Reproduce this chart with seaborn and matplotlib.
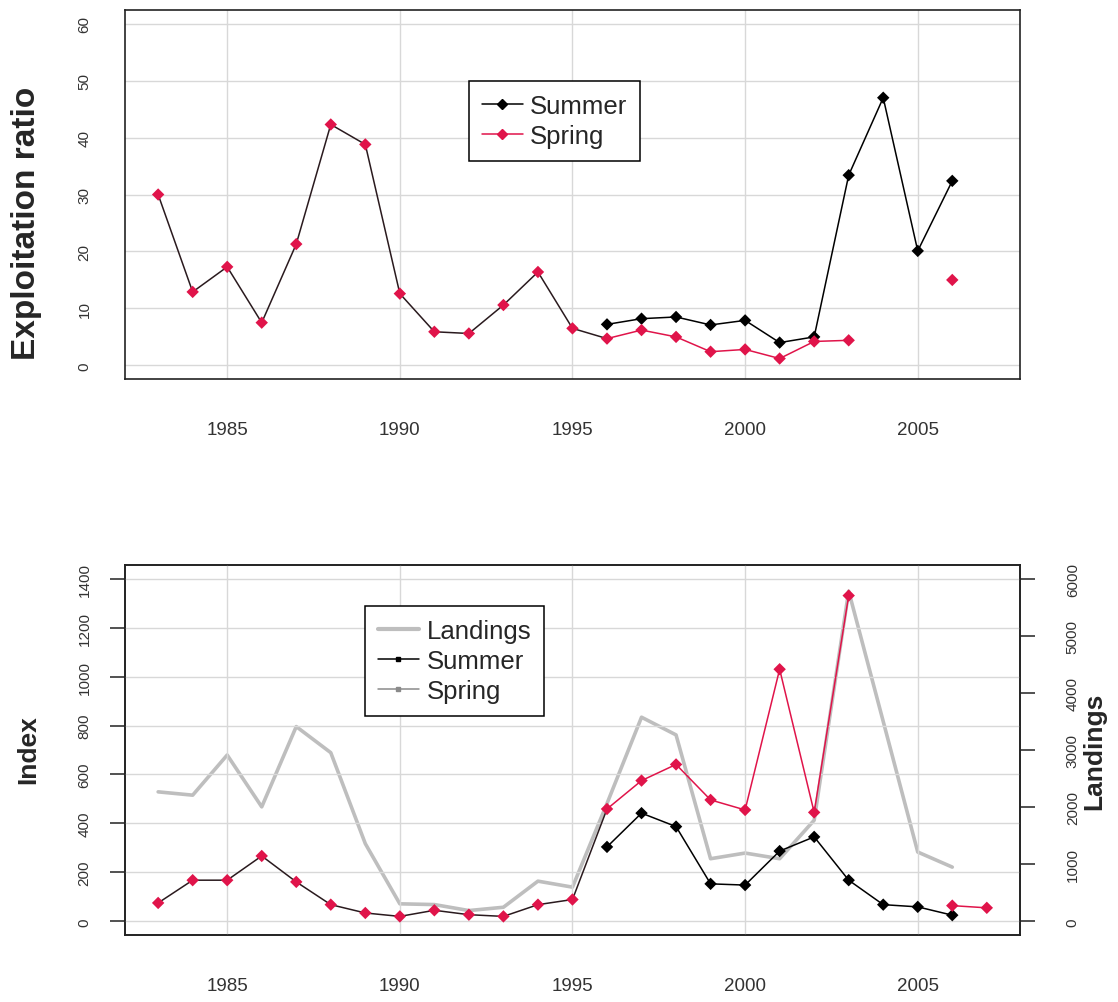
import numpy as np
import pandas as pd
import matplotlib
matplotlib.use("Agg")
import matplotlib.pyplot as plt
from matplotlib.lines import Line2D
import seaborn as sns

nan = np.nan
years = list(range(1983, 2008))

# exploitation ratio (top panel)
expl_summer = [nan] * 13 + [7.2, 8.2, 8.5, 7.1, 7.9, 4.0, 5.0, 33.4, 47.0, 20.1, 32.4, nan]
expl_spring = [30.0, 12.9, 17.3, 7.5, 21.3, 42.3, 38.8, 12.6, 5.9, 5.6, 10.6, 16.4, 6.5,
               4.7, 6.2, 5.0, 2.4, 2.8, 1.2, 4.2, 4.4, nan, nan, 15.0, nan]

# survey index (bottom panel, left axis)
idx_summer = [nan] * 13 + [304, 442, 387, 153, 148, 287, 345, 168, 68, 59, 25, nan]
idx_spring = [75, 168, 168, 267, 161, 68, 34, 20, 45, 27, 20, 68, 89,
              459, 575, 641, 496, 455, 1030, 445, 1331, nan, nan, 64, 55]

# landings (bottom panel, right axis)
landings = [2267, 2209, 2912, 2004, 3410, 2953, 1360, 306, 293, 188, 246, 703, 598,
            2063, 3574, 3264, 1096, 1195, 1096, 1770, 5782, 3500, 1213, 949, nan]

x_ticks = [1985, 1990, 1995, 2000, 2005]
top_yticks = [0, 10, 20, 30, 40, 50, 60]
idx_yticks = [0, 200, 400, 600, 800, 1000, 1200, 1400]
land_yticks = [0, 1000, 2000, 3000, 4000, 5000, 6000]
dark_until = 1996  # spring line drawn dark up to this year

RED = "#E0144A"
GRID = "#D8D8D8"
TXT = "#333333"

sns.set_style("white")
plt.rcParams["font.family"] = ["Liberation Sans", "DejaVu Sans"]


def draw_line(ax, x, y, color, lw, zorder=2):
    df = pd.DataFrame({"year": x, "value": y})
    df["seg"] = df["value"].isna().cumsum()
    df = df.dropna()
    if len(df) == 0:
        return
    sns.lineplot(data=df, x="year", y="value", units="seg", estimator=None,
                 color=color, lw=lw, ax=ax, legend=False, zorder=zorder)


def draw_points(ax, x, y, color, size):
    df = pd.DataFrame({"year": x, "value": y}).dropna()
    sns.scatterplot(data=df, x="year", y="value", marker="D", s=size, color=color,
                    edgecolor="none", ax=ax, legend=False, zorder=4)


def draw_spring(ax, x, y):
    df = pd.DataFrame({"year": x, "value": y})
    early = df[df["year"] <= dark_until]
    late = df[df["year"] >= dark_until]
    draw_line(ax, late["year"], late["value"], RED, 1.1)
    draw_line(ax, early["year"], early["value"], "#2a1a1e", 1.1)
    draw_points(ax, x, y, RED, 40)


def rot_labels(ax, which):
    labs = ax.get_yticklabels() if which == "y" else []
    for lab in labs:
        lab.set_rotation(90)
        lab.set_va("center")


def style_axes(ax, yticks, ylim):
    ax.set_xlim(1982.04, 2007.96)
    ax.set_ylim(*ylim)
    ax.set_xticks(x_ticks)
    ax.set_yticks(yticks)
    ax.grid(True, color=GRID, lw=1.0)
    ax.set_axisbelow(True)
    for s in ax.spines.values():
        s.set_color("#222222")
        s.set_linewidth(1.2)
    ax.tick_params(axis="x", direction="out", length=11, width=1.1, pad=19,
                   labelsize=13.5, colors="#222222", labelcolor=TXT)
    ax.tick_params(axis="y", direction="out", length=11, width=1.1, pad=13,
                   labelsize=11, colors="#222222", labelcolor=TXT)
    rot_labels(ax, "y")
    ax.set_xlabel("")


def make_legend(ax, handles, labels, anchor):
    leg = ax.legend(handles, labels, loc="upper left", bbox_to_anchor=anchor,
                    borderaxespad=0, fontsize=18.5, frameon=True, fancybox=False,
                    edgecolor="black", handlelength=1.6, handletextpad=0.3,
                    labelspacing=0.24, borderpad=0.5)
    leg.get_frame().set_linewidth(1.1)
    leg.get_frame().set_alpha(1)
    return leg


fig = plt.figure(figsize=(11.18, 10.03), dpi=100)
ax1 = fig.add_axes([0.1118, 0.6211, 0.8005, 0.3679])
ax2 = fig.add_axes([0.1118, 0.0668, 0.8005, 0.3689])

# ---- top panel
draw_line(ax1, years, expl_summer, "black", 1.1)
draw_points(ax1, years, expl_summer, "black", 40)
draw_spring(ax1, years, expl_spring)
style_axes(ax1, top_yticks, (-2.4, 62.4))
ax1.set_ylabel("Exploitation ratio", fontsize=24, fontweight="bold")
ax1.yaxis.set_label_coords(-0.093, 0.425)

h_top = [Line2D([], [], color="black", lw=1.1, marker="D", ms=5.5),
         Line2D([], [], color=RED, lw=1.1, marker="D", ms=5.5)]
make_legend(ax1, h_top, ["Summer", "Spring"], (0.384, 0.808))

# ---- bottom panel
axr = ax2.twinx()
draw_line(axr, years, landings, "#BEBEBE", 2.6, zorder=1)
axr.set_ylim(-240, 6240)
axr.set_yticks(land_yticks)
axr.tick_params(axis="y", direction="out", length=11, width=1.1, pad=22,
                labelsize=11, colors="#222222", labelcolor=TXT)
rot_labels(axr, "y")
axr.set_ylabel("Landings", fontsize=19, fontweight="bold")
axr.yaxis.set_label_coords(1.070, 0.5)
for s in axr.spines.values():
    s.set_color("#222222")
    s.set_linewidth(1.2)

ax2.set_zorder(axr.get_zorder() + 1)
ax2.patch.set_visible(False)
draw_line(ax2, years, idx_summer, "black", 1.1)
draw_points(ax2, years, idx_summer, "black", 40)
draw_spring(ax2, years, idx_spring)
style_axes(ax2, idx_yticks, (-56, 1456))
ax2.set_ylabel("Index", fontsize=19, fontweight="bold")
ax2.yaxis.set_label_coords(-0.095, 0.503)

h_bot = [Line2D([], [], color="#BEBEBE", lw=3),
         Line2D([], [], color="black", lw=1.1, marker="s", ms=2.5),
         Line2D([], [], color="#8A8A8A", lw=1.1, marker="s", ms=2.5)]
make_legend(ax2, h_bot, ["Landings", "Summer", "Spring"], (0.268, 0.889))

fig.savefig("out.png", dpi=100, facecolor="white")
